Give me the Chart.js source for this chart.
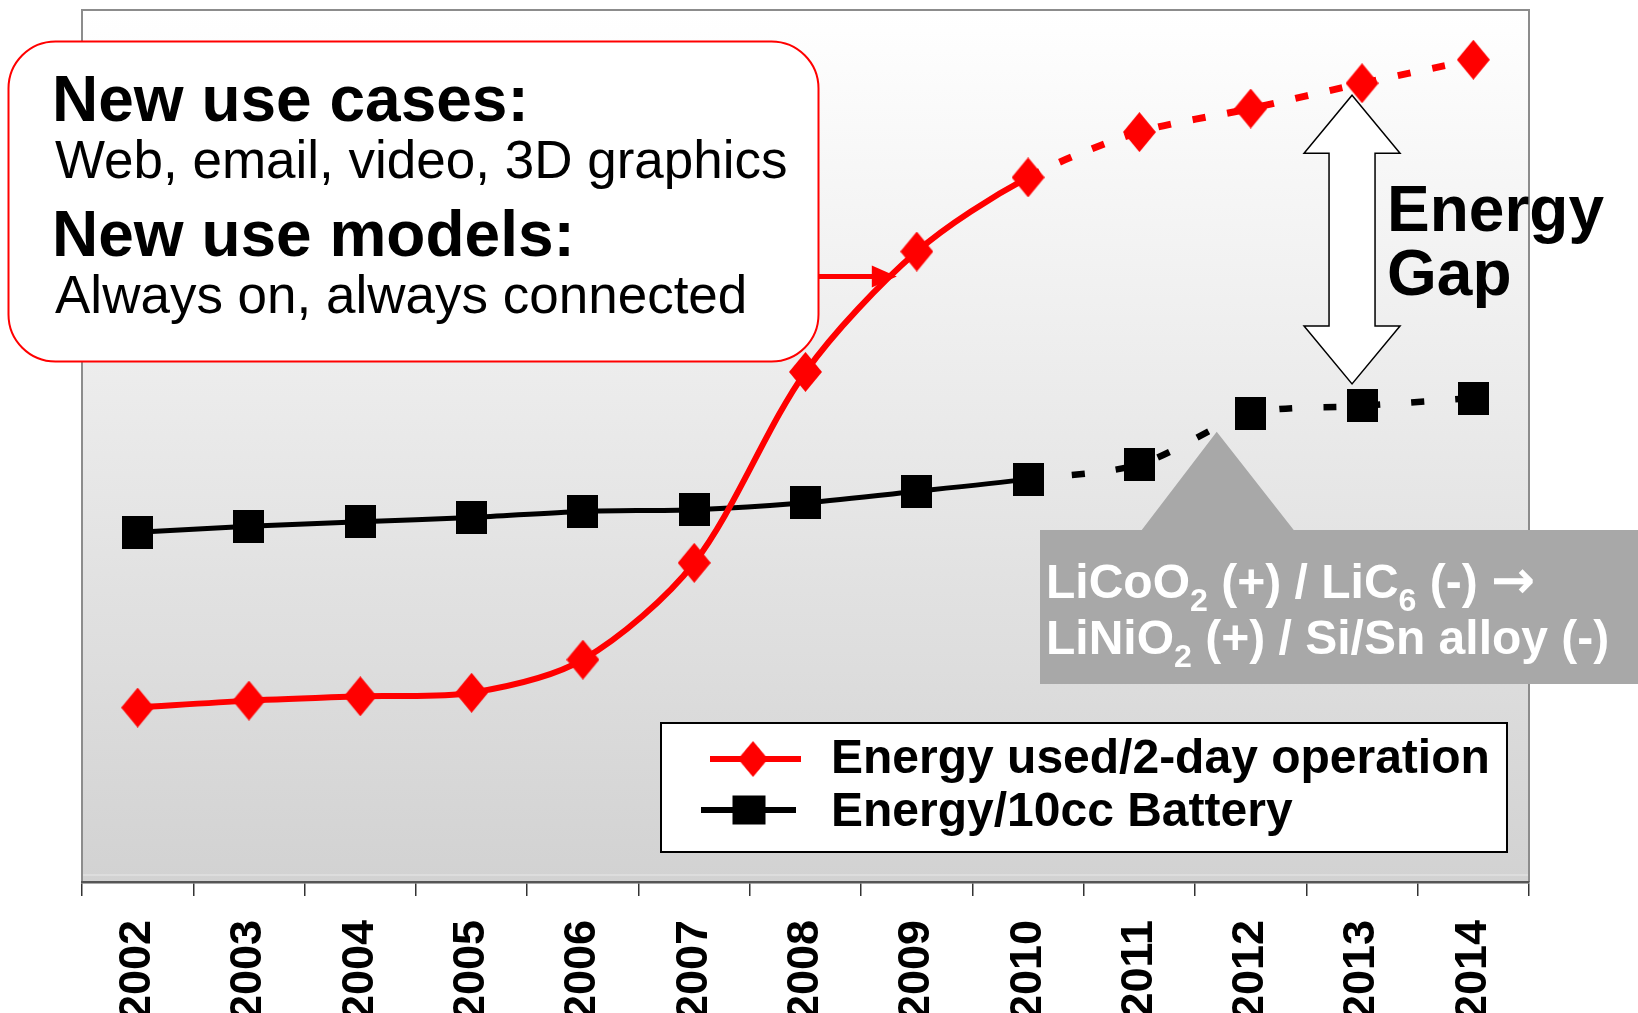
<!DOCTYPE html>
<html>
<head>
<meta charset="utf-8">
<title>Energy gap</title>
<script src="https://cdn.jsdelivr.net/npm/chart.js@4.4.1/dist/chart.umd.min.js"></script>
<style>
  html, body { margin: 0; padding: 0; background: #fff; }
  #wrap { position: relative; width: 1638px; height: 1013px; overflow: hidden;
          font-family: "Liberation Sans", Arial, sans-serif; }
  #chart { position: absolute; left: 0; top: 0; }
  .txt { position: absolute; white-space: nowrap; line-height: 1; color: #000; }
  .b { font-weight: bold; }
  .w { color: #fff; }
  .sub { font-size: 0.67em; position: relative; top: 0.4em; }
  .arr { font-family: "DejaVu Sans", sans-serif; font-size: 1.1em; }
</style>
</head>
<body>
<div id="wrap">
  <canvas id="chart" width="1638" height="1013"></canvas>

  <div class="txt b" data-x="52" data-base="121" data-size="64">New use cases:</div>
  <div class="txt" data-x="55" data-base="177.5" data-size="53">Web, email, video, 3D graphics</div>
  <div class="txt b" data-x="52" data-base="256" data-size="64">New use models:</div>
  <div class="txt" data-x="55" data-base="313" data-size="53">Always on, always connected</div>

  <div class="txt b" data-x="1387" data-base="231" data-size="64">Energy</div>
  <div class="txt b" data-x="1387" data-base="295" data-size="64">Gap</div>

  <div class="txt b w" data-x="1046" data-base="595" data-size="48">LiCoO<span class="sub">2</span> (+) / LiC<span class="sub">6</span> (-) <span class="arr">→</span></div>
  <div class="txt b w" data-x="1046" data-base="655" data-size="48">LiNiO<span class="sub">2</span> (+) / Si/Sn alloy (-)</div>

  <div class="txt b" data-x="831" data-base="774" data-size="48">Energy used/2-day operation</div>
  <div class="txt b" data-x="831" data-base="827" data-size="48">Energy/10cc Battery</div>
</div>

<script>
(function () {
  "use strict";

  // --- data (arbitrary 0-100 energy units) ---
  var years = ["2002", "2003", "2004", "2005", "2006", "2007", "2008",
               "2009", "2010", "2011", "2012", "2013", "2014"];
  var energyUsed = [20.0, 20.8, 21.3, 21.7, 25.5, 36.6, 58.5, 72.3, 80.8, 86.0, 88.7, 91.6, 94.3];
  var batteryEnergy = [40.1, 40.8, 41.3, 41.8, 42.5, 42.7, 43.5, 44.8, 46.2, 47.9, 53.7, 54.6, 55.5];
  var lastActual = 8;          // 2010: projections (dashed) after this
  var yMin = 0, yMax = 100;

  var RED = "#ff0000";
  var BLACK = "#000000";

  // place overlay text by baseline
  Array.prototype.forEach.call(document.querySelectorAll(".txt"), function (el) {
    var size = parseFloat(el.dataset.size);
    el.style.fontSize = size + "px";
    el.style.left = el.dataset.x + "px";
    el.style.top = (parseFloat(el.dataset.base) - 0.8465 * size) + "px";
  });

  function makeMarker(shape, w, h, color) {
    var c = document.createElement("canvas");
    c.width = w;
    c.height = h;
    var g = c.getContext("2d");
    g.fillStyle = color;
    g.beginPath();
    if (shape === "diamond") {
      g.moveTo(w / 2, 0);
      g.lineTo(w, h / 2);
      g.lineTo(w / 2, h);
      g.lineTo(0, h / 2);
      g.closePath();
    } else {
      g.rect(0, 0, w, h);
    }
    g.fill();
    return c;
  }

  var diamond = makeMarker("diamond", 33, 40, RED);
  var square = makeMarker("square", 31, 33, BLACK);

  function projected(ctx, value) {
    return ctx.p0DataIndex >= lastActual ? value : undefined;
  }

  var decor = {
    id: "decor",
    beforeDraw: function (chart) {
      var a = chart.chartArea;
      var ctx = chart.ctx;
      ctx.save();
      var grad = ctx.createLinearGradient(0, a.top, 0, a.bottom);
      grad.addColorStop(0, "#ffffff");
      grad.addColorStop(1, "#d2d2d2");
      ctx.fillStyle = grad;
      ctx.fillRect(a.left, a.top, a.right - a.left, a.bottom - a.top);
      ctx.strokeStyle = "#e0e0e0";
      ctx.lineWidth = 1.5;
      ctx.beginPath();
      ctx.moveTo(a.left, a.bottom - 7);
      ctx.lineTo(a.right, a.bottom - 7);
      ctx.stroke();
      ctx.strokeStyle = "#8c8c8c";
      ctx.lineWidth = 2;
      ctx.beginPath();
      ctx.moveTo(a.left, a.bottom);
      ctx.lineTo(a.left, a.top);
      ctx.lineTo(a.right, a.top);
      ctx.lineTo(a.right, a.bottom);
      ctx.stroke();
      ctx.restore();
    },
    beforeDatasetsDraw: function (chart) {
      var ctx = chart.ctx;
      var red = chart.getDatasetMeta(0).data;
      var blk = chart.getDatasetMeta(1).data;
      ctx.save();

      // grey callout for the chemistry change (pointer at the 2011-2012 rise)
      var apex = { x: blk[10].x - 34, y: blk[10].y + 18 };
      ctx.fillStyle = "#a8a8a8";
      ctx.beginPath();
      ctx.moveTo(1040, 530);
      ctx.lineTo(apex.x - 75, 530);
      ctx.lineTo(apex.x, apex.y);
      ctx.lineTo(apex.x + 77, 530);
      ctx.lineTo(1640, 530);
      ctx.lineTo(1640, 684);
      ctx.lineTo(1040, 684);
      ctx.closePath();
      ctx.fill();

      // double arrow "Energy Gap" between the 2013 points
      var cx = red[11].x - 10;
      var top = red[11].y + 12;
      var bot = blk[11].y - 22;
      var hw = 48, sw = 23, hh = 58;
      ctx.fillStyle = "#ffffff";
      ctx.strokeStyle = "#000000";
      ctx.lineWidth = 1.5;
      ctx.lineJoin = "miter";
      ctx.beginPath();
      ctx.moveTo(cx, top);
      ctx.lineTo(cx + hw, top + hh);
      ctx.lineTo(cx + sw, top + hh);
      ctx.lineTo(cx + sw, bot - hh);
      ctx.lineTo(cx + hw, bot - hh);
      ctx.lineTo(cx, bot);
      ctx.lineTo(cx - hw, bot - hh);
      ctx.lineTo(cx - sw, bot - hh);
      ctx.lineTo(cx - sw, top + hh);
      ctx.lineTo(cx - hw, top + hh);
      ctx.closePath();
      ctx.fill();
      ctx.stroke();

      // rounded text box
      var bx = 8.5, by = 41.5, bw = 810, bh = 320, r = 47;
      ctx.beginPath();
      ctx.moveTo(bx + r, by);
      ctx.lineTo(bx + bw - r, by);
      ctx.arcTo(bx + bw, by, bx + bw, by + r, r);
      ctx.lineTo(bx + bw, by + bh - r);
      ctx.arcTo(bx + bw, by + bh, bx + bw - r, by + bh, r);
      ctx.lineTo(bx + r, by + bh);
      ctx.arcTo(bx, by + bh, bx, by + bh - r, r);
      ctx.lineTo(bx, by + r);
      ctx.arcTo(bx, by, bx + r, by, r);
      ctx.closePath();
      ctx.fillStyle = "#ffffff";
      ctx.fill();
      ctx.strokeStyle = RED;
      ctx.lineWidth = 2;
      ctx.stroke();

      // red arrow from the box to the 2009 part of the curve
      var tipX = red[7].x - 20;
      var tipY = red[7].y + 25;
      ctx.strokeStyle = RED;
      ctx.fillStyle = RED;
      ctx.lineWidth = 5;
      ctx.beginPath();
      ctx.moveTo(bx + bw, tipY);
      ctx.lineTo(tipX - 20, tipY);
      ctx.stroke();
      ctx.beginPath();
      ctx.moveTo(tipX, tipY);
      ctx.lineTo(tipX - 25, tipY - 11);
      ctx.lineTo(tipX - 25, tipY + 11);
      ctx.closePath();
      ctx.fill();

      ctx.restore();
    },
    afterDraw: function (chart) {
      var ctx = chart.ctx;
      ctx.save();
      ctx.fillStyle = "#ffffff";
      ctx.fillRect(661, 723, 846, 129);
      ctx.strokeStyle = "#000000";
      ctx.lineWidth = 2;
      ctx.strokeRect(661, 723, 846, 129);

      ctx.lineWidth = 6;
      ctx.strokeStyle = RED;
      ctx.beginPath();
      ctx.moveTo(710, 759);
      ctx.lineTo(801, 759);
      ctx.stroke();
      ctx.drawImage(diamond, 753 - 15, 759 - 18, 30, 36);

      ctx.strokeStyle = BLACK;
      ctx.beginPath();
      ctx.moveTo(701, 810);
      ctx.lineTo(796, 810);
      ctx.stroke();
      ctx.fillStyle = BLACK;
      ctx.fillRect(749 - 16.5, 810 - 14.5, 33, 29);
      ctx.restore();
    }
  };

  Chart.defaults.font.family = "'Liberation Sans', Arial, sans-serif";

  new Chart(document.getElementById("chart"), {
    type: "line",
    data: {
      labels: years,
      datasets: [
        {
          label: "Energy used/2-day operation",
          data: energyUsed,
          borderColor: RED,
          backgroundColor: RED,
          borderWidth: 6,
          tension: 0.3,
          pointStyle: diamond,
          pointRadius: 18,
          segment: {
            borderDash: function (ctx) { return projected(ctx, [13, 22]); },
            borderWidth: function (ctx) { return projected(ctx, 7); }
          }
        },
        {
          label: "Energy/10cc Battery",
          data: batteryEnergy,
          borderColor: BLACK,
          backgroundColor: BLACK,
          borderWidth: 5,
          tension: 0.3,
          pointStyle: square,
          pointRadius: 17,
          segment: {
            borderDash: function (ctx) { return projected(ctx, [13, 31]); },
            borderWidth: function (ctx) { return projected(ctx, 6.5); }
          }
        }
      ]
    },
    options: {
      responsive: false,
      animation: false,
      devicePixelRatio: 1,
      layout: { autoPadding: false, padding: { left: 82, right: 109, top: 10, bottom: 0 } },
      plugins: { legend: { display: false }, tooltip: { enabled: false } },
      scales: {
        x: {
          offset: true,
          grid: {
            offset: true,
            drawOnChartArea: false,
            drawTicks: true,
            tickLength: 14,
            color: "#333333",
            lineWidth: 1.5
          },
          border: { display: true, color: "#555555", width: 2.5 },
          ticks: {
            autoSkip: false,
            minRotation: 90,
            maxRotation: 90,
            padding: 24,
            color: "#000000",
            font: { size: 45, weight: "bold" }
          },
          afterFit: function (scale) { scale.height = 131; }
        },
        y: { display: false, min: yMin, max: yMax }
      }
    },
    plugins: [decor]
  });
})();
</script>
</body>
</html>
